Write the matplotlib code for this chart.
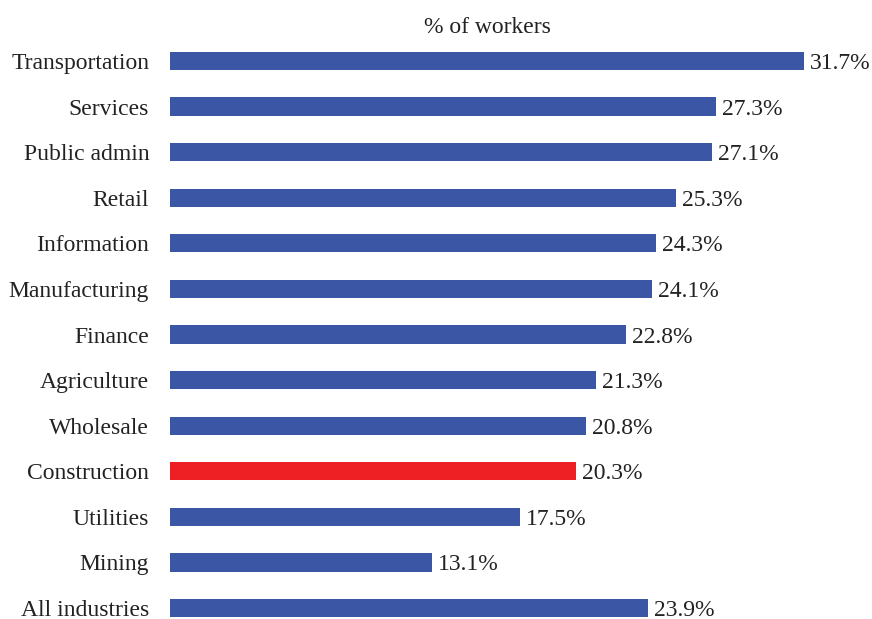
import matplotlib
matplotlib.use("Agg")
import matplotlib.pyplot as plt

categories = ["Transportation", "Services", "Public admin", "Retail", "Information",
              "Manufacturing", "Finance", "Agriculture", "Wholesale", "Construction",
              "Utilities", "Mining", "All industries"]
values = [31.7, 27.3, 27.1, 25.3, 24.3, 24.1, 22.8, 21.3, 20.8, 20.3, 17.5, 13.1, 23.9]
highlight = "Construction"
title = "% of workers"

plt.rcParams['font.family'] = ['Liberation Serif', 'DejaVu Serif']

W, H = 872, 619
fig = plt.figure(figsize=(W / 100, H / 100), dpi=100)
ax = fig.add_axes([170 / W, 0, 700 / W, (619 - 40) / H])

colors = ["#EE2024" if c == highlight else "#3A56A5" for c in categories]
pos = list(range(len(categories)))
ax.barh(pos, values, height=0.4, color=colors)
ax.set_xlim(0, 35)
ax.set_ylim(12.24, -0.46)
ax.set_yticks(pos)
ax.set_yticklabels(categories, fontsize=17, color="#222222", va='center_baseline')
ax.tick_params(axis='y', length=0, pad=15)
ax.set_xticks([])
for s in ax.spines.values():
    s.set_visible(False)
for p, v in zip(pos, values):
    ax.text(v + 0.3, p, f"{v:.1f}%", va='center_baseline', ha='left', fontsize=17, color="#222222")

fig.text(487 / W, 1 - 25 / H, title, ha='center', va='center_baseline', fontsize=17, color="#222222")
fig.savefig("out.png", dpi=100)
